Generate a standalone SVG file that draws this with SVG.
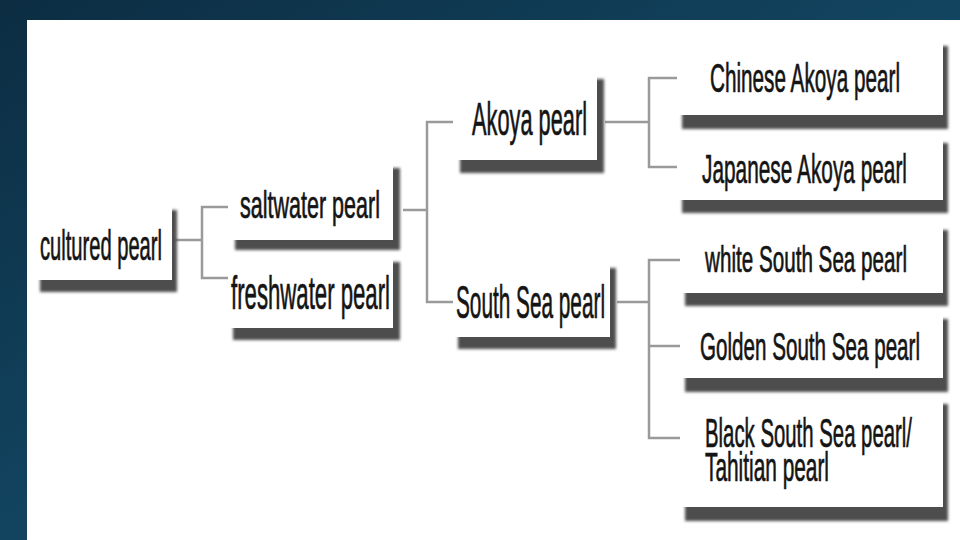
<svg xmlns="http://www.w3.org/2000/svg" width="960" height="540" viewBox="0 0 960 540">
<defs>
<linearGradient id="bg" x1="0" y1="0" x2="1" y2="1">
<stop offset="0" stop-color="#0c2d42"/>
<stop offset="0.5" stop-color="#124460"/>
<stop offset="1" stop-color="#175674"/>
</linearGradient>
<filter id="blur" x="-10%" y="-20%" width="120%" height="140%"><feGaussianBlur stdDeviation="1.6"/></filter>
<style>
.sh{fill:#4e4e4e;filter:url(#blur)}
.bx{fill:#ffffff}
.t{font-family:"Liberation Sans",Arial,sans-serif;fill:#141414;stroke:#141414;stroke-width:0.7}
.cn{fill:none;stroke:#9a9a9a;stroke-width:2.5}
</style>
</defs>
<rect x="0" y="0" width="960" height="540" fill="url(#bg)"/>
<rect x="27" y="20" width="933" height="520" fill="#ffffff"/>
<g id="connectors">
<path class="cn" d="M175 240 H202 M228 207 H202 V278 H228"/>
<path class="cn" d="M403 210 H427 M453 122 H427 V302 H455"/>
<path class="cn" d="M605 122 H649 M677 78 H649 V167 H677"/>
<path class="cn" d="M617 302 H649 M680 260 H649 V438 H680 M649 346 H680"/>
</g>
<g id="cultured">
<rect class="sh" x="40" y="210" width="137" height="82"/>
<rect class="bx" x="35" y="205" width="137" height="75"/>
<text class="t" x="40" y="260" font-size="42" textLength="122" lengthAdjust="spacingAndGlyphs">cultured pearl</text>
</g>
<g id="saltwater">
<rect class="sh" x="235" y="168" width="165" height="82"/>
<rect class="bx" x="230" y="163" width="163" height="77"/>
<text class="t" x="240" y="218" font-size="39" textLength="140" lengthAdjust="spacingAndGlyphs">saltwater pearl</text>
</g>
<g id="freshwater">
<rect class="sh" x="233" y="262" width="167" height="78"/>
<rect class="bx" x="228" y="255" width="165" height="73"/>
<text class="t" x="231" y="309" font-size="47" textLength="159" lengthAdjust="spacingAndGlyphs">freshwater pearl</text>
</g>
<g id="akoya">
<rect class="sh" x="460" y="79" width="144" height="94"/>
<rect class="bx" x="455" y="75" width="142" height="85"/>
<text class="t" x="472" y="135" font-size="47" textLength="115" lengthAdjust="spacingAndGlyphs">Akoya pearl</text>
</g>
<g id="southsea">
<rect class="sh" x="458" y="268" width="158" height="81"/>
<rect class="bx" x="453" y="263" width="157" height="74"/>
<text class="t" x="456" y="318" font-size="47" textLength="149" lengthAdjust="spacingAndGlyphs">South Sea pearl</text>
</g>
<g id="chinese">
<rect class="sh" x="682" y="46" width="266" height="83"/>
<rect class="bx" x="677" y="41" width="266" height="74"/>
<text class="t" x="710" y="92" font-size="40" textLength="190" lengthAdjust="spacingAndGlyphs">Chinese Akoya pearl</text>
</g>
<g id="japanese">
<rect class="sh" x="682" y="143" width="266" height="70"/>
<rect class="bx" x="677" y="138" width="266" height="62"/>
<text class="t" x="702" y="183" font-size="41" textLength="205" lengthAdjust="spacingAndGlyphs">Japanese Akoya pearl</text>
</g>
<g id="white">
<rect class="sh" x="685" y="230" width="263" height="76"/>
<rect class="bx" x="680" y="226" width="263" height="67"/>
<text class="t" x="705" y="272" font-size="37" textLength="202" lengthAdjust="spacingAndGlyphs">white South Sea pearl</text>
</g>
<g id="golden">
<rect class="sh" x="685" y="319" width="263" height="73"/>
<rect class="bx" x="680" y="314" width="263" height="64"/>
<text class="t" x="700" y="360" font-size="38" textLength="220" lengthAdjust="spacingAndGlyphs">Golden South Sea pearl</text>
</g>
<g id="black">
<rect class="sh" x="685" y="404" width="263" height="117"/>
<rect class="bx" x="680" y="399" width="263" height="108"/>
<text class="t" x="705" y="447" font-size="41" textLength="207" lengthAdjust="spacingAndGlyphs">Black South Sea pearl/</text>
<text class="t" x="705" y="481" font-size="40" textLength="124" lengthAdjust="spacingAndGlyphs">Tahitian pearl</text>
</g>
</svg>
